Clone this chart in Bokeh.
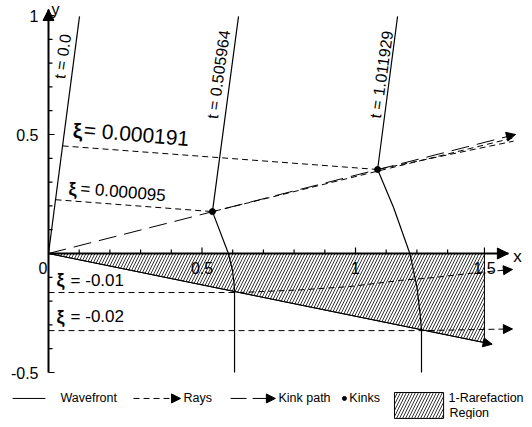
from bokeh.plotting import figure
from bokeh.models import Range1d, Arrow, NormalHead
from bokeh.embed import file_html
from bokeh.resources import INLINE
from bokeh.core.properties import value

FONT = "Liberation Sans"

# ---------------- data ----------------
wf0_x = [0.0, 0.101]
wf0_y = [0.0, 0.996]
wf1_x = [0.619, 0.534, 0.586, 0.599, 0.604, 0.606, 0.606]
wf1_y = [0.996, 0.176, 0.0, -0.07, -0.12, -0.16, -0.5]
wf2_x = [1.137, 1.072, 1.124, 1.177, 1.200, 1.211, 1.215, 1.215]
wf2_y = [0.996, 0.353, 0.193, 0.0, -0.14, -0.26, -0.322, -0.5]
wf_labels = ["t = 0.0", "t = 0.505964", "t = 1.011929"]
wf_label_x = [0.046, 0.554, 1.085]
wf_label_y = [0.828, 0.752, 0.752]

kink_x = [0.534, 1.072]
kink_y = [0.176, 0.353]
kink_path_x = [0.0, 1.521]
kink_path_y = [0.0, 0.5]

ray_a_x = [0.046, 1.072, 1.515]      # xi = 0.000191
ray_a_y = [0.452, 0.353, 0.472]
ray_b_x = [0.023, 0.534, 1.515]      # xi = 0.000095
ray_b_y = [0.226, 0.176, 0.486]
ray_c_x = [0.0, 0.619, 0.82, 0.98, 1.147, 1.255, 1.397, 1.511]   # xi = -0.01
ray_c_y = [-0.164, -0.164, -0.153, -0.139, -0.113, -0.101, -0.080, -0.067]
ray_d_x = [0.0, 1.222, 1.42, 1.511]  # xi = -0.02
ray_d_y = [-0.324, -0.324, -0.319, -0.317]
ray_labels = ["= 0.000191", "= 0.000095", "= -0.01", "= -0.02"]

region_x = [0.0, 1.42, 1.42]
region_y = [0.0, 0.0, -0.3745]
region_tip = (1.445, -0.381)

x_major = [0.5, 1.0, 1.42]
x_major_labels = ["0.5", "1", "1.5"]
x_minor = [0.1, 0.2, 0.3, 0.4, 0.6, 0.7, 0.8, 0.9, 1.1, 1.2, 1.3]
y_major = [1.0, 0.5, -0.5]
y_major_labels = ["1", "0.5", "-0.5"]
y_minor = [0.9, 0.8, 0.7, 0.6, 0.4, 0.3, 0.2, 0.1, -0.1, -0.2, -0.3, -0.4]

# ---------------- figure ----------------
W, H = 524, 419
X0_PX, XS = 48, 307.0   # canvas px of x=0, px per unit
Y0_PX, YS = 253, 238.0
x_start = -X0_PX / XS
y_end = Y0_PX / YS
p = figure(width=W, height=H, output_backend="svg", toolbar_location=None,
           x_range=Range1d(x_start, x_start + W / XS),
           y_range=Range1d(y_end - H / YS, y_end),
           x_axis_location=None, y_axis_location=None, min_border=0)
p.outline_line_color = None
p.grid.visible = False
p.background_fill_color = "white"

def arrow(x0, y0, x1, y1, size=9):
    p.add_layout(Arrow(end=NormalHead(size=size, fill_color="black", line_color="black", line_width=1),
                       x_start=x0, y_start=y0, x_end=x1, y_end=y1, line_alpha=0))

# rarefaction region
p.patch(region_x, region_y, fill_alpha=0, hatch_pattern="/", hatch_color="black",
        hatch_scale=6, hatch_weight=0.8, line_color="black", line_width=1)
p.line([region_x[0], region_tip[0]], [region_y[0], region_tip[1]], color="black", line_width=1)
arrow(region_x[1] - 0.1, region_y[2] + 0.0264, region_tip[0], region_tip[1])

# axes
p.line([0, 1.498], [0, 0], color="black", line_width=2)
p.line([0, 0], [-0.5, 1.025], color="black", line_width=2)
arrow(1.3, 0, 1.498, 0, size=11)
arrow(0, 0.9, 0, 1.025, size=11)
p.ray(x=x_major, y=[0] * len(x_major), length=6, angle=1.5708, length_units="screen", color="black", line_width=1.2)
p.ray(x=x_minor, y=[0] * len(x_minor), length=4, angle=1.5708, length_units="screen", color="black", line_width=1.2)
p.ray(x=[0] * len(y_major), y=y_major, length=6, angle=0, length_units="screen", color="black", line_width=1.2)
p.ray(x=[0] * len(y_minor), y=y_minor, length=4, angle=0, length_units="screen", color="black", line_width=1.2)
p.text(x=x_major, y=[0] * 3, text=x_major_labels, text_font=value(FONT), text_font_size="16px",
       text_align="center", text_baseline="top", y_offset=8, text_color="black")
p.text(x=[0] * 3, y=y_major, text=y_major_labels, text_font=value(FONT), text_font_size="16px",
       text_align="right", text_baseline="middle", x_offset=-10, text_color="black")
p.text(x=[0], y=[0], text=["0"], text_font=value(FONT), text_font_size="16px",
       text_align="right", text_baseline="top", x_offset=-1, y_offset=8, text_color="black")
p.text(x=[1.528], y=[0], text=["x"], text_font=value(FONT), text_font_size="17px",
       text_align="center", text_baseline="middle", y_offset=3, text_color="black")
p.text(x=[0.01], y=[y_end], text=["y"], text_font=value(FONT), text_font_size="16px",
       text_align="left", text_baseline="top", y_offset=0, text_color="black")

# rays
for rx, ry in [(ray_a_x, ray_a_y), (ray_b_x, ray_b_y), (ray_c_x, ray_c_y), (ray_d_x, ray_d_y)]:
    p.line(rx, ry, color="black", line_width=1, line_dash="6 4")
arrow(ray_c_x[-2], ray_c_y[-2], ray_c_x[-1], ray_c_y[-1])
arrow(ray_d_x[-2], ray_d_y[-2], ray_d_x[-1], ray_d_y[-1])

# kink path
p.line(kink_path_x, kink_path_y, color="black", line_width=1, line_dash="18 8")
arrow(1.3, 0.4275, kink_path_x[1], kink_path_y[1])

# wavefronts
for wx, wy in [(wf0_x, wf0_y), (wf1_x, wf1_y), (wf2_x, wf2_y)]:
    p.line(wx, wy, color="black", line_width=1.2)
p.text(x=wf_label_x, y=wf_label_y, text=wf_labels, text_font=value(FONT), text_font_size="16px",
       text_align="center", text_baseline="middle", angle=1.43, text_color="black")

# kinks
p.scatter(kink_x, kink_y, size=6, color="black")

# ray labels
p.text(x=[0.094], y=[0.517], text=["ξ"], text_font=value(FONT), text_font_size="21px", text_font_style="bold",
       text_align="center", text_baseline="middle", text_color="black")
p.text(x=[0.115], y=[0.521], text=[ray_labels[0]], text_font=value(FONT), text_font_size="21px",
       text_align="left", text_baseline="middle", angle=-0.085, text_color="black")
p.text(x=[0.078], y=[0.269], text=["ξ"], text_font=value(FONT), text_font_size="18px", text_font_style="bold",
       text_align="center", text_baseline="middle", text_color="black")
p.text(x=[0.104], y=[0.273], text=[ray_labels[1]], text_font=value(FONT), text_font_size="17px",
       text_align="left", text_baseline="middle", angle=-0.085, text_color="black")
p.text(x=[0.039, 0.039], y=[-0.113, -0.265], text=["ξ", "ξ"], text_font=value(FONT), text_font_size="18px",
       text_font_style="bold", text_align="center", text_baseline="middle", text_color="black")
p.text(x=[0.072, 0.072], y=[-0.113, -0.265], text=ray_labels[2:], text_font=value(FONT), text_font_size="17px",
       text_align="left", text_baseline="middle", text_color="black")

# legend
LY = -0.609
LFS = "12.5px"
p.line([-0.117, -0.010], [LY, LY], color="black", line_width=1)
p.text(x=[0.039], y=[LY], text=["Wavefront"], text_font=value(FONT), text_font_size=LFS,
       text_align="left", text_baseline="middle", text_color="black")
p.line([0.277, 0.405], [LY, LY], color="black", line_width=1, line_dash="6 4")
arrow(0.38, LY, 0.430, LY)
p.text(x=[0.440], y=[LY], text=["Rays"], text_font=value(FONT), text_font_size=LFS,
       text_align="left", text_baseline="middle", text_color="black")
p.line([0.593, 0.715], [LY, LY], color="black", line_width=1, line_dash="16 6")
arrow(0.69, LY, 0.739, LY)
p.text(x=[0.749], y=[LY], text=["Kink path"], text_font=value(FONT), text_font_size=LFS,
       text_align="left", text_baseline="middle", text_color="black")
p.scatter([0.964], [LY], size=4, color="black")
p.text(x=[0.980], y=[LY], text=["Kinks"], text_font=value(FONT), text_font_size=LFS,
       text_align="left", text_baseline="middle", text_color="black")
p.quad(left=[1.127], right=[1.287], bottom=[-0.693], top=[-0.584], fill_alpha=0,
       hatch_pattern="/", hatch_color="black", hatch_scale=6, hatch_weight=0.8,
       line_color="black", line_width=1)
p.text(x=[1.303, 1.306], y=[LY, -0.672], text=["1-Rarefaction", "Region"], text_font=value(FONT),
       text_font_size=LFS, text_align="left", text_baseline="middle", text_color="black")

open("out.html", "w").write(file_html(p, INLINE))
